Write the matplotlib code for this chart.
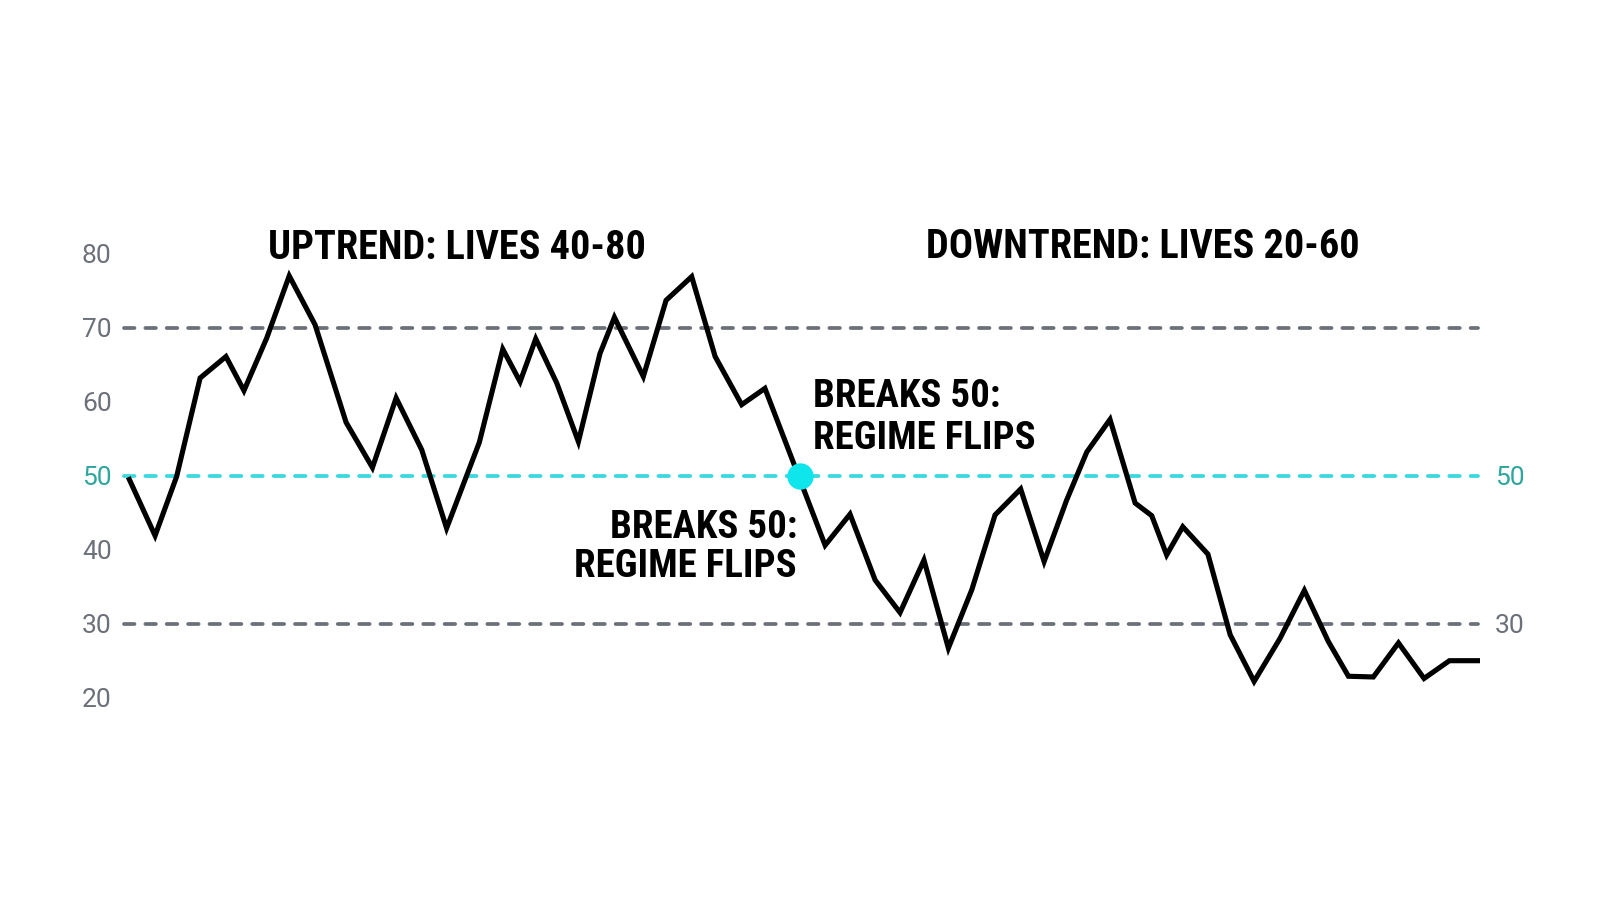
import matplotlib
matplotlib.use("Agg")
import matplotlib.pyplot as plt
from matplotlib import font_manager as fm
from matplotlib.transforms import ScaledTranslation, blended_transform_factory

# ---- data ----
t = [0, 1.13, 2.04, 3.03, 4.12, 4.88, 5.84, 6.79, 7.88, 9.19,
     10.30, 11.30, 12.38, 13.43, 14.81, 15.80, 16.53, 17.19, 18.08, 18.99,
     19.90, 20.51, 21.73, 22.69, 23.77, 24.76, 25.88, 26.86, 29.40, 30.45,
     31.51, 32.56, 33.57, 34.60, 35.59, 36.57, 37.65, 38.64, 39.59, 40.44,
     41.42, 42.48, 43.18, 43.81, 44.49, 45.55, 46.49, 47.50, 48.59, 49.62,
     50.63, 51.48, 52.53, 53.59, 54.67, 55.74, 57.03]
rsi = [49.8, 41.9, 49.9, 63.2, 66.1, 61.5, 68.6, 77.0, 70.4, 57.2,
       51.1, 60.5, 53.5, 42.9, 54.5, 67.1, 62.7, 68.5, 62.5, 54.6,
       66.5, 71.4, 63.4, 73.7, 76.9, 66.1, 59.6, 61.8, 40.6, 44.8,
       35.9, 31.5, 38.6, 26.7, 34.6, 44.7, 48.2, 38.4, 46.7, 53.2,
       57.6, 46.3, 44.6, 39.3, 43.1, 39.4, 28.5, 22.2, 28.0, 34.5,
       27.6, 22.9, 22.8, 27.4, 22.6, 25.0, 25.0]
left_ticks = [80, 70, 60, 50, 40, 30, 20]
right_ticks = [50, 30]
guides = [70, 30]
pivot = 50
break_t, break_v = 28.34, 50
titles = ["UPTREND: LIVES 40-80", "DOWNTREND: LIVES 20-60"]
note = ["BREAKS 50:", "REGIME FLIPS"]

# ---- style ----
INK, GRAY, CYAN, DOT, TEAL = "#000000", "#6b7079", "#3ad8df", "#0ee6ec", "#2ea69e"

_names = {f.name for f in fm.fontManager.ttflist}


def pick(*cands):
    for c in cands:
        if c in _names:
            return c
    return "DejaVu Sans"


HEAD = pick("Roboto Condensed", "Liberation Sans Narrow", "Liberation Sans")
TICK = pick("Roboto", "Liberation Sans", "DejaVu Sans")

W, H = 1600, 914
fig = plt.figure(figsize=(W / 100, H / 100), dpi=100)
fig.patch.set_facecolor("white")


def px(x, y):
    return x / W, 1 - y / H


ax = fig.add_axes([128.3 / W, 1 - 697.7 / H, (1480 - 128.3) / W, (697.7 - 253.7) / H])
ax.set_xlim(t[0], t[-1])
ax.set_ylim(20, 80)
ax.axis("off")

dash = dict(lw=2.7, dashes=(2.8, 2.9), dash_capstyle="round", clip_on=False)
x0, x1 = -0.18, 56.95
for g in guides:
    ax.plot([x0, x1], [g, g], color=GRAY, zorder=1, **dash)
ax.plot([x0, x1], [pivot, pivot], color=CYAN, zorder=1, **dash)

ax.plot(t, rsi, color=INK, lw=3.7, solid_joinstyle="miter", solid_capstyle="butt",
        zorder=3, clip_on=False)
ax.plot([break_t], [break_v], "o", ms=19, color=DOT, mec="none", zorder=5, clip_on=False)

# value labels, baseline shifted down by half the cap height
shift = ScaledTranslation(0, -9.5 / 100, fig.dpi_scale_trans)
lab_tr = blended_transform_factory(fig.transFigure, ax.transData) + shift
for v in left_ticks:
    ax.text(111.7 / W, v, str(v), transform=lab_tr, ha="right", va="baseline",
            fontsize=19, family=TICK, color=TEAL if v == pivot else GRAY)
for v in right_ticks:
    ax.text(1495 / W, v, str(v), transform=lab_tr, ha="left", va="baseline",
            fontsize=19, family=TICK, color=TEAL if v == pivot else GRAY)

head = dict(family=HEAD, weight="bold", color=INK, va="baseline")
fig.text(*px(456.5, 259.5), titles[0], ha="center", fontsize=29, **head)
fig.text(*px(1143, 258), titles[1], ha="center", fontsize=29, **head)

fig.text(*px(813, 406.7), note[0], ha="left", fontsize=28, **head)
fig.text(*px(813, 449), note[1], ha="left", fontsize=28, **head)
fig.text(*px(797, 538.3), note[0], ha="right", fontsize=28, **head)
fig.text(*px(797, 577), note[1], ha="right", fontsize=28, **head)

fig.savefig("out.png", dpi=100, facecolor="white")
